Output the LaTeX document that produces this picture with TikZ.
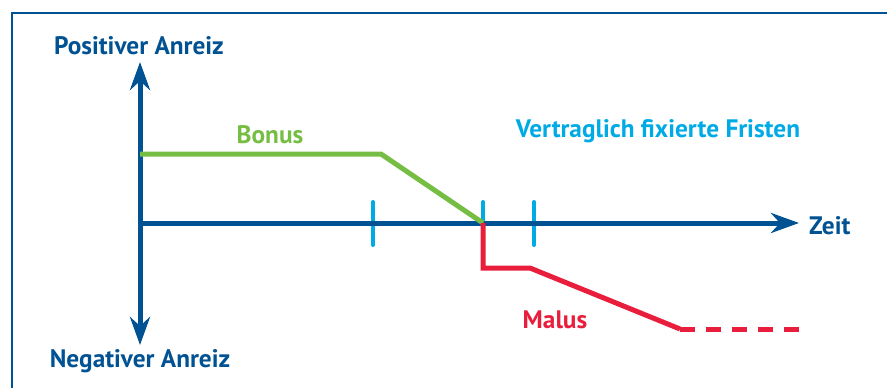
\documentclass[tikz,border=0pt]{standalone}
\usepackage{fontspec}
\setmainfont{PT Sans}
\usetikzlibrary{arrows.meta}
\definecolor{axisblue}{RGB}{0,82,147}
\definecolor{tickblue}{RGB}{0,170,228}
\definecolor{bonusgreen}{RGB}{118,190,67}
\definecolor{malusred}{RGB}{232,30,60}
\tikzset{
  lbl/.style={inner sep=0pt, font=\bfseries\fontsize{25.3}{29}\selectfont},
  axisline/.style={draw=axisblue, line width=5pt, -{Stealth[length=28pt,width=20pt,inset=9pt]}},
  tickline/.style={draw=tickblue, line width=4pt, line cap=round},
  bonusline/.style={draw=bonusgreen, line width=5pt},
  malusline/.style={draw=malusred, line width=5pt},
}
\begin{document}
\begin{tikzpicture}[x=1pt,y=-1pt]
\useasboundingbox (0,0) rectangle (887,388);
% frame
\draw[axisblue, line width=1.8pt] (12,390) -- (12,13) -- (890,13);
% coordinates
\coordinate (O) at (140,223);
\coordinate (Ytop) at (140,62);
\coordinate (Ybot) at (140,345);
\coordinate (Xend) at (799,223);
\coordinate (T1a) at (373,202); \coordinate (T1b) at (373,245);
\coordinate (T2a) at (483,202); \coordinate (T2b) at (483,245);
\coordinate (T3a) at (534,202); \coordinate (T3b) at (534,245);
\coordinate (B0) at (140,154);
\coordinate (B1) at (381,154);
\coordinate (M0) at (483,268);
\coordinate (M1) at (530,268);
\coordinate (M2) at (680,329);
\coordinate (M3) at (799,329);
% labels
\node[lbl, text=axisblue] (pos) at (139,46) {Positiver Anreiz};
\node[lbl, text=axisblue] (neg) at (140,361) {Negativer Anreiz};
\node[lbl, text=axisblue, anchor=west] (zeit) at (809,226) {Zeit};
\node[lbl, text=bonusgreen] (bonus) at (270,135) {Bonus};
\node[lbl, text=malusred] (malus) at (555,320) {Malus};
\node[lbl, text=tickblue] (fristen) at (658,131) {Vertraglich fixierte Fristen};
% ticks
\draw[tickline] (T1a) -- (T1b);
\draw[tickline] (T2a) -- (T2b);
\draw[tickline] (T3a) -- (T3b);
% axes
\draw[axisline] (O) -- (Xend);
\draw[axisline] (O) -- (Ytop);
\draw[axisline] (O) -- (Ybot);
% bonus
\draw[bonusline, line join=miter] (B0) -- (B1) -- (T2a |- O);
% malus
\draw[malusline, line join=miter] (T2a |- O) -- (M0) -- (M1) -- (M2);
\draw[malusline, dash pattern=on 15pt off 11pt] (M2) -- (M3);
\end{tikzpicture}
\end{document}
